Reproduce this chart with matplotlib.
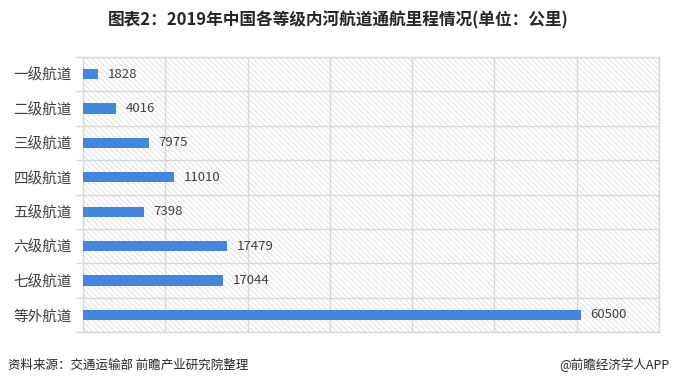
import matplotlib
matplotlib.use("Agg")
import matplotlib.pyplot as plt
from matplotlib.patches import Rectangle

plt.rcParams['font.family'] = ['Noto Sans CJK SC', 'DejaVu Sans']
plt.rcParams['hatch.color'] = '#dcdcdc'
plt.rcParams['hatch.linewidth'] = 0.6

categories = ["一级航道", "二级航道", "三级航道", "四级航道", "五级航道", "六级航道", "七级航道", "等外航道"]
values = [1828, 4016, 7975, 11010, 7398, 17479, 17044, 60500]
x_ticks = [0, 10000, 20000, 30000, 40000, 50000, 60000, 70000]

title = "图表2：2019年中国各等级内河航道通航里程情况(单位：公里)"
source = "资料来源：交通运输部 前瞻产业研究院整理"
credit = "@前瞻经济学人APP"

fig = plt.figure(figsize=(6.76, 3.86), dpi=100)
fig.patch.set_facecolor('white')
ax = fig.add_axes([83/676, 1-332/386, 576/676, 275/386])

n = len(categories)
ypos = list(range(n))
ax.set_xlim(0, 70000)
ax.set_ylim(n - 0.5, -0.5)

# hatched background
ax.add_patch(Rectangle((0, 0), 1, 1, transform=ax.transAxes, facecolor='white',
                       edgecolor='#dcdcdc', hatch='\\\\\\\\\\\\', linewidth=0, zorder=0))

bar_color = '#4286E0'
ax.barh(ypos, values, height=0.3, color=bar_color, zorder=3)
for y, v in zip(ypos, values):
    ax.text(v + 1200, y, str(v), va='center', ha='left', fontsize=9.5, color='#404040', zorder=4)

ax.set_xticks(x_ticks)
ax.set_xticklabels([])
ax.tick_params(axis='x', length=0)
ax.set_yticks(ypos)
ax.set_yticklabels(categories, fontsize=10.5, color='#404040')
ax.tick_params(axis='y', length=0, pad=8)
ax.set_yticks([i - 0.5 for i in range(n + 1)], minor=True)
ax.tick_params(axis='y', which='minor', length=5, color='#d9d9d9', width=1)

ax.grid(True, axis='x', color='#d9d9d9', linewidth=1, zorder=1)
ax.grid(True, axis='y', which='minor', color='#d9d9d9', linewidth=1, zorder=1)
ax.set_axisbelow(True)
for s in ax.spines.values():
    s.set_color('#d9d9d9')
    s.set_linewidth(1)

fig.text(338/676, 1-20/386, title, ha='center', va='center', fontsize=12,
         fontweight='bold', color='#262626')
fig.text(8/676, 1-365/386, source, ha='left', va='center', fontsize=9, color='#262626')
fig.text(670/676, 1-365/386, credit, ha='right', va='center', fontsize=9, color='#262626')

fig.savefig('out.png', dpi=100, facecolor='white')
